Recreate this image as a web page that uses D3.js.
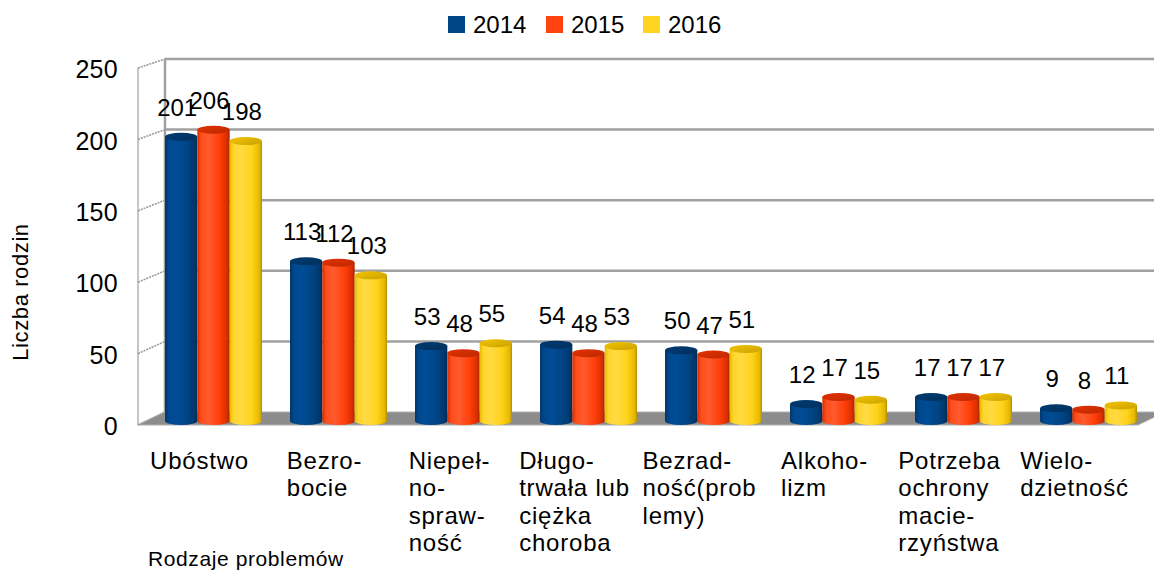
<!DOCTYPE html>
<html><head><meta charset="utf-8">
<script src="https://cdn.jsdelivr.net/npm/d3@7"></script>
<style>
html,body{margin:0;padding:0;background:#fff;}
svg text{font-family:"Liberation Sans",Arial,sans-serif;fill:#000;}
</style></head>
<body>
<svg id="chart" width="1154" height="571"></svg>
<script>
// ---- data ----
const categories = ["Ubóstwo","Bezrobocie","Niepełnosprawność","Długotrwała lub ciężka choroba","Bezradność(problemy)","Alkoholizm","Potrzeba ochrony macierzyństwa","Wielodzietność"];
const categoryLines = [["Ubóstwo"],["Bezro-","bocie"],["Niepeł-","no-","spraw-","ność"],["Długo-","trwała lub","ciężka","choroba"],["Bezrad-","ność(prob","lemy)"],["Alkoho-","lizm"],["Potrzeba","ochrony","macie-","rzyństwa"],["Wielo-","dzietność"]];
const seriesNames = ["2014","2015","2016"];
const values2014 = [201,113,53,54,50,12,17,9];
const values2015 = [206,112,48,48,47,17,17,8];
const values2016 = [198,103,55,53,51,15,17,11];
const yTicks = [0,50,100,150,200,250];
const yTitle = "Liczba rodzin";
const xTitle = "Rodzaje problemów";
const colors = ["#004586","#ff420e","#ffd320"];

const series = [values2014, values2015, values2016];
const svg = d3.select("#chart");
const defs = svg.append("defs");

// scales
const x = d3.scaleBand().domain(categories).range([165,1165]).paddingInner(0);
const xs = d3.scaleBand().domain(seriesNames).range([0,97]);
const yMid = d3.scaleLinear().domain([0,250]).range([421,67.5]);
const yBack = d3.scaleLinear().domain([0,250]).range([412,59]);
const yFront = d3.scaleLinear().domain([0,250]).range([425,68]);
const depthDX = 27;

// gradients for cylinders
function shade(c,k){const h=d3.hsl(c);h.l=Math.max(0,Math.min(1,h.l*k));return h.formatHex();}
colors.forEach((c,i)=>{
  const g=defs.append("linearGradient").attr("id","g"+i).attr("x1","0").attr("x2","1").attr("y1","0").attr("y2","0");
  [[0,0.8],[0.12,1.05],[0.35,1.12],[0.7,0.98],[0.92,0.8],[1,0.62]].forEach(([o,k])=>{
    g.append("stop").attr("offset",o).attr("stop-color",shade(c,k));
  });
  const t=defs.append("linearGradient").attr("id","t"+i).attr("x1","0").attr("x2","1").attr("y1","0").attr("y2","1");
  t.append("stop").attr("offset",0).attr("stop-color",shade(c,0.85));
  t.append("stop").attr("offset",1).attr("stop-color",shade(c,0.7));
});

// floor
const x0 = x.range()[0], x1 = x.range()[1];
svg.append("path")
  .attr("d",`M${x0},${yBack(0)} L${x1},${yBack(0)} L${x1-depthDX},${yFront(0)} L${x0-depthDX},${yFront(0)} Z`)
  .attr("fill","#8c8c8c").attr("stroke","#b0b0b0").attr("stroke-width",1);

// back wall gridlines
yTicks.filter(t=>t>0).forEach(t=>{
  svg.append("line").attr("x1",x0).attr("x2",x1).attr("y1",yBack(t)).attr("y2",yBack(t))
    .attr("stroke","#a0a0a0").attr("stroke-width",2.5);
});
// back wall left edge
svg.append("line").attr("x1",x0).attr("x2",x0).attr("y1",yBack(250)).attr("y2",yBack(0))
  .attr("stroke","#a0a0a0").attr("stroke-width",2.5);
// left wall front edge
svg.append("line").attr("x1",x0-depthDX).attr("x2",x0-depthDX).attr("y1",yFront(250)).attr("y2",yFront(0))
  .attr("stroke","#a0a0a0").attr("stroke-width",1.2);
// left wall diagonal ticks
yTicks.forEach(t=>{
  svg.append("line").attr("x1",x0-depthDX).attr("y1",yFront(t)).attr("x2",x0).attr("y2",yBack(t))
    .attr("stroke","#9a9a9a").attr("stroke-width",1.6).attr("stroke-dasharray","2,1");
});

// y tick labels
svg.append("g").selectAll("text").data(yTicks).join("text")
  .attr("x",118).attr("y",d=>yFront(d)+3.5)
  .attr("text-anchor","end").attr("dominant-baseline","middle")
  .style("font-size","25px").style("letter-spacing","0.3px").text(d=>d);

// y title
svg.append("text").attr("transform","translate(22,292) rotate(-90)")
  .attr("text-anchor","middle").attr("dominant-baseline","middle")
  .style("font-size","22px").style("letter-spacing","0.6px").text(yTitle);

// cylinders
const bw = xs.bandwidth(), ry = 4;
categories.forEach((cat,ci)=>{
  series.forEach((vals,si)=>{
    const bx = x(cat)+xs(seriesNames[si]);
    const yt = yMid(vals[ci]), yb = yMid(0);
    const g = svg.append("g");
    g.append("path")
      .attr("d",`M${bx},${yt} L${bx},${yb} A${bw/2},${ry} 0 0 0 ${bx+bw},${yb} L${bx+bw},${yt} Z`)
      .attr("fill",`url(#g${si})`);
    g.append("ellipse").attr("cx",bx+bw/2).attr("cy",yt).attr("rx",bw/2).attr("ry",ry)
      .attr("fill",`url(#t${si})`);
  });
});

// value labels
categories.forEach((cat,ci)=>{
  series.forEach((vals,si)=>{
    const cx = x(cat)+xs(seriesNames[si])+bw/2-4;
    svg.append("text").attr("x",cx).attr("y",yMid(vals[ci])-21)
      .attr("text-anchor","middle").style("font-size","24px").text(vals[ci]);
  });
});

// category labels
categories.forEach((cat,ci)=>{
  const g = svg.append("g");
  const lines = categoryLines[ci];
  const texts = lines.map((l,li)=>g.append("text").attr("y",469+li*27.3)
    .style("font-size","24px").style("letter-spacing","0.8px").text(l));
  const w = d3.max(texts,t=>t.node().getComputedTextLength());
  const cx = x(cat)+48.5-14;
  texts.forEach(t=>t.attr("x",cx-w/2));
});

// x title
svg.append("text").attr("x",148).attr("y",566).style("font-size","21px").style("letter-spacing","0.6px").text(xTitle);

// legend
const legX = [448,546,643];
seriesNames.forEach((s,i)=>{
  svg.append("rect").attr("x",legX[i]).attr("y",16).attr("width",17).attr("height",17).attr("fill",colors[i]);
  svg.append("text").attr("x",legX[i]+25).attr("y",33).style("font-size","24px").text(s);
});
</script>
</body></html>
